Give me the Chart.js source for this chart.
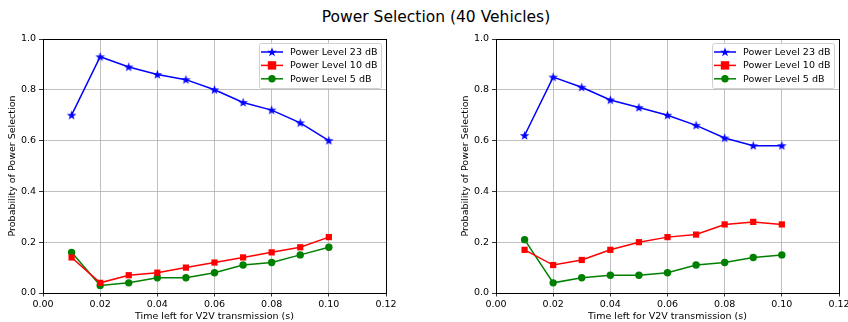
<!DOCTYPE html>
<html><head><meta charset="utf-8">
<script src="https://cdn.jsdelivr.net/npm/chart.js@4/dist/chart.umd.min.js"></script>
<style>
html,body{margin:0;padding:0;background:#fff;overflow:hidden;width:848px;height:322px;position:relative;}
#title{position:absolute;left:0;top:8px;width:872px;text-align:center;font:15.5px "DejaVu Sans";color:#000;}
canvas{position:absolute;top:0;}
.lg{position:absolute;font:9.5px "DejaVu Sans";line-height:12px;height:12px;white-space:nowrap;color:#000;}
</style></head><body>
<div id="title">Power Selection (40 Vehicles)</div>
<canvas id="c1" width="424" height="322" style="left:0"></canvas>
<canvas id="c2" width="440" height="322" style="left:424px"></canvas>
<script>
const timeLeft = [0.01, 0.02, 0.03, 0.04, 0.05, 0.06, 0.07, 0.08, 0.09, 0.10];
const seriesNames = ['Power Level 23 dB', 'Power Level 10 dB', 'Power Level 5 dB'];
const left23 = [0.70, 0.93, 0.89, 0.86, 0.84, 0.80, 0.75, 0.72, 0.67, 0.60];
const left10 = [0.14, 0.04, 0.07, 0.08, 0.10, 0.12, 0.14, 0.16, 0.18, 0.22];
const left5  = [0.16, 0.03, 0.04, 0.06, 0.06, 0.08, 0.11, 0.12, 0.15, 0.18];
const right23 = [0.62, 0.85, 0.81, 0.76, 0.73, 0.70, 0.66, 0.61, 0.58, 0.58];
const right10 = [0.17, 0.11, 0.13, 0.17, 0.20, 0.22, 0.23, 0.27, 0.28, 0.27];
const right5  = [0.21, 0.04, 0.06, 0.07, 0.07, 0.08, 0.11, 0.12, 0.14, 0.15];
const xTicks = [0, 0.02, 0.04, 0.06, 0.08, 0.10, 0.12];
const yTicks = [0, 0.2, 0.4, 0.6, 0.8, 1.0];
const xLabel = 'Time left for V2V transmission (s)';
const yLabel = 'Probability of Power Selection';

const colors = ['#0000ff', '#ff0000', '#008000'];
const FONT = 'DejaVu Sans';
const LG_W = 122, LG_H = 45, LG_ROW = 13.4;

function starPath(ctx, cx, cy, ro, ri) {
  ctx.beginPath();
  for (let i = 0; i < 10; i++) {
    const r = i % 2 === 0 ? ro : ri;
    const a = -Math.PI / 2 + i * Math.PI / 5;
    const px = cx + r * Math.cos(a), py = cy + r * Math.sin(a);
    if (i === 0) ctx.moveTo(px, py); else ctx.lineTo(px, py);
  }
  ctx.closePath();
}
const starImg = document.createElement('canvas');
starImg.width = 11; starImg.height = 11;
(function(){ const c = starImg.getContext('2d'); c.fillStyle = colors[0]; starPath(c, 5.5, 5.8, 5, 2); c.fill(); })();

function mkDatasets(a, b, c) {
  return [
    {label: seriesNames[0], data: timeLeft.map((x,i)=>({x, y:a[i]})), borderColor: colors[0], backgroundColor: colors[0],
      pointStyle: starImg, pointRadius: 5, borderWidth: 1.5},
    {label: seriesNames[1], data: timeLeft.map((x,i)=>({x, y:b[i]})), borderColor: colors[1], backgroundColor: colors[1],
      pointStyle: 'rect', pointRadius: 4.4, pointBorderWidth: 0, borderWidth: 1.5},
    {label: seriesNames[2], data: timeLeft.map((x,i)=>({x, y:c[i]})), borderColor: colors[2], backgroundColor: colors[2],
      pointStyle: 'circle', pointRadius: 3.7, pointBorderWidth: 0, borderWidth: 1.5}
  ];
}

function legendOrigin(a) {
  return {x: Math.round(a.right - 5.5 - LG_W), y: Math.round(a.top + 4)};
}

const framePlugin = {
  id: 'frame',
  beforeDatasetsDraw(chart) {
    const {ctx, chartArea: a} = chart;
    ctx.save();
    ctx.strokeStyle = '#000'; ctx.lineWidth = 1;
    ctx.strokeRect(Math.round(a.left) + 0.5, Math.round(a.top) + 0.5, Math.round(a.right - a.left), Math.round(a.bottom - a.top));
    ctx.restore();
  },
  afterDraw(chart) {
    const {ctx, chartArea: a} = chart;
    const {x, y} = legendOrigin(a);
    ctx.save();
    ctx.fillStyle = 'rgba(255,255,255,0.85)';
    ctx.strokeStyle = '#d0d0d0'; ctx.lineWidth = 1;
    ctx.beginPath();
    if (ctx.roundRect) ctx.roundRect(x + 0.5, y + 0.5, LG_W, LG_H, 2); else ctx.rect(x + 0.5, y + 0.5, LG_W, LG_H);
    ctx.fill(); ctx.stroke();
    for (let i = 0; i < 3; i++) {
      const ry = y + 9 + i * LG_ROW;
      ctx.strokeStyle = colors[i]; ctx.lineWidth = 1.5;
      ctx.beginPath(); ctx.moveTo(x + 2, ry); ctx.lineTo(x + 24, ry); ctx.stroke();
      ctx.fillStyle = colors[i];
      const mx = x + 13;
      if (i === 0) { starPath(ctx, mx, ry + 0.3, 5, 2); ctx.fill(); }
      else if (i === 1) { ctx.fillRect(mx - 4.2, ry - 4.2, 8.4, 8.4); }
      else { ctx.beginPath(); ctx.arc(mx, ry, 3.7, 0, Math.PI * 2); ctx.fill(); }
    }
    ctx.restore();
  }
};

function makeChart(id, data, padLeft, padRight, offsetX) {
  const chart = new Chart(document.getElementById(id), {
    type: 'line',
    data: {datasets: data},
    plugins: [framePlugin],
    options: {
      responsive: false, animation: false,
      layout: {padding: {left: padLeft, right: padRight, top: 39, bottom: 0}},
      plugins: {legend: {display: false}, tooltip: {enabled: false}},
      elements: {line: {tension: 0}},
      scales: {
        x: {
          type: 'linear', min: 0, max: 0.12,
          afterBuildTicks: s => { s.ticks = xTicks.map(v => ({value: v})); },
          afterFit: s => { s.height = 29; },
          ticks: {color: '#000', font: {family: FONT, size: 9.5}, padding: 2, maxRotation: 0,
            callback: v => Number(v).toFixed(2)},
          grid: {color: '#b0b0b0', lineWidth: 0.8, tickColor: '#000', tickLength: 3.5, drawTicks: true},
          border: {display: true, color: '#000', width: 1},
          title: {display: true, text: xLabel, color: '#000', font: {family: FONT, size: 9.5}, padding: {top: 0, bottom: 0}}
        },
        y: {
          type: 'linear', min: 0, max: 1,
          afterBuildTicks: s => { s.ticks = yTicks.map(v => ({value: v})); },
          afterFit: s => { s.width = 43; },
          ticks: {color: '#000', font: {family: FONT, size: 9.5}, padding: 3,
            callback: v => Number(v).toFixed(1)},
          grid: {color: '#b0b0b0', lineWidth: 0.8, tickColor: '#000', tickLength: 4, drawTicks: true},
          border: {display: true, color: '#000', width: 1},
          title: {display: true, text: yLabel, color: '#000', font: {family: FONT, size: 9.5}, padding: {top: 7, bottom: 0}}
        }
      }
    }
  });
  const {x, y} = legendOrigin(chart.chartArea);
  seriesNames.forEach((name, i) => {
    const d = document.createElement('div');
    d.className = 'lg';
    d.textContent = name;
    d.style.left = (offsetX + x + 31) + 'px';
    d.style.top = (y + 9 + i * LG_ROW - 6) + 'px';
    document.body.appendChild(d);
  });
  return chart;
}

makeChart('c1', mkDatasets(left23, left10, left5), 0, 38, 0);
makeChart('c2', mkDatasets(right23, right10, right5), 29, 25, 424);
</script>
</body></html>
